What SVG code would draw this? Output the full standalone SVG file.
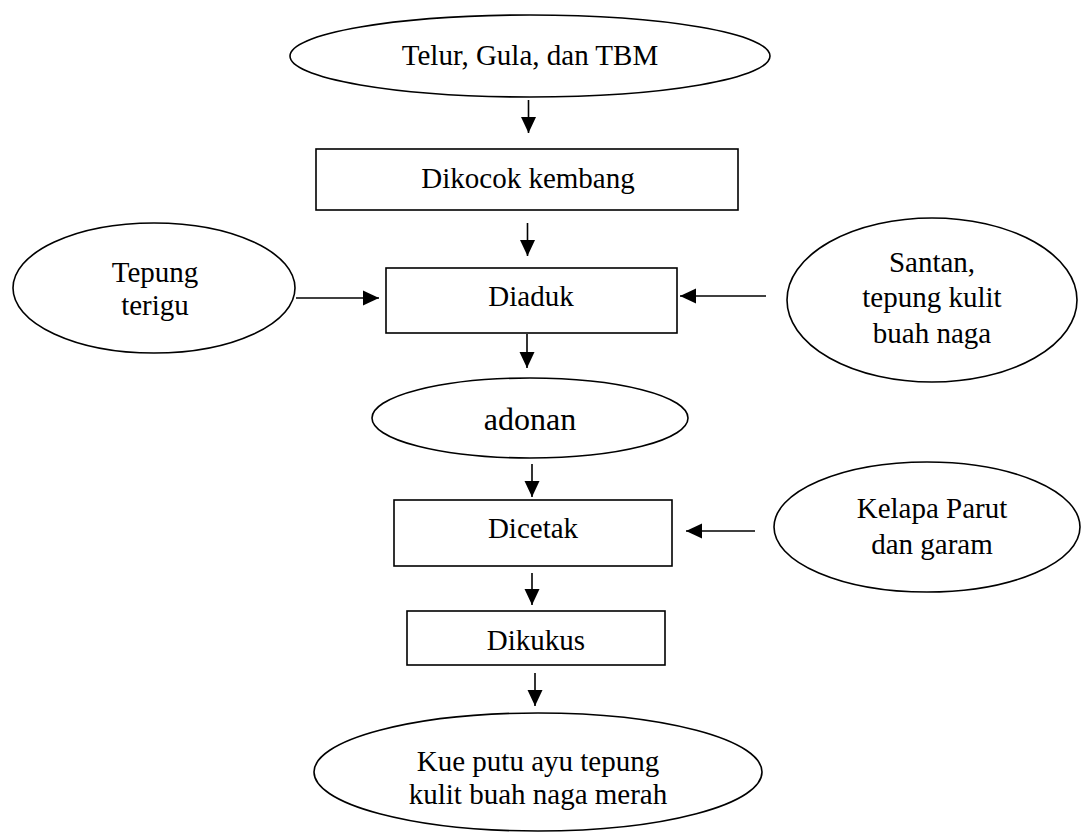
<svg xmlns="http://www.w3.org/2000/svg" width="1081" height="833" viewBox="0 0 1081 833">
<defs>
<marker id="ah" markerUnits="userSpaceOnUse" markerWidth="18" markerHeight="18" viewBox="0 0 18 18" refX="17" refY="9" orient="auto">
<path d="M1,1.5 L17,9 L1,16.5 Z" fill="#000"/>
</marker>
</defs>
<style>
.s{fill:#fff;stroke:#000;stroke-width:1.6}
.t{font-family:"Liberation Serif","Times New Roman",serif;font-size:29px;fill:#000;text-anchor:middle}
.c{stroke:#000;stroke-width:1.6;fill:none;marker-end:url(#ah)}
</style>
<rect width="1081" height="833" fill="#fff"/>
<g id="connectors">
<line class="c" x1="528.5" y1="100" x2="528.5" y2="133"/>
<line class="c" x1="527.5" y1="223" x2="527.5" y2="256"/>
<line class="c" x1="296" y1="298" x2="379" y2="298"/>
<line class="c" x1="766" y1="296" x2="680" y2="296"/>
<line class="c" x1="527" y1="334" x2="527" y2="368"/>
<line class="c" x1="532" y1="464" x2="532" y2="497"/>
<line class="c" x1="755" y1="531" x2="686" y2="531"/>
<line class="c" x1="532" y1="573" x2="532" y2="605"/>
<line class="c" x1="535" y1="673" x2="535" y2="706"/>
</g>
<g id="n-telur">
<ellipse class="s" cx="530" cy="56" rx="240" ry="41"/>
<text class="t" x="530" y="65">Telur, Gula, dan TBM</text>
</g>
<g id="n-dikocok">
<rect class="s" x="316" y="149" width="422" height="61"/>
<text class="t" x="528" y="188">Dikocok kembang</text>
</g>
<g id="n-tepung">
<ellipse class="s" cx="154" cy="288" rx="141" ry="65"/>
<text class="t" x="155" y="282">Tepung</text>
<text class="t" x="155" y="315">terigu</text>
</g>
<g id="n-diaduk">
<rect class="s" x="386" y="268" width="291" height="65"/>
<text class="t" x="531" y="306">Diaduk</text>
</g>
<g id="n-santan">
<ellipse class="s" cx="932" cy="300" rx="145" ry="82"/>
<text class="t" x="932" y="272">Santan,</text>
<text class="t" x="932" y="307">tepung kulit</text>
<text class="t" x="932" y="343">buah naga</text>
</g>
<g id="n-adonan">
<ellipse class="s" cx="530" cy="418" rx="158" ry="40"/>
<text class="t" x="530" y="430" style="font-size:32px">adonan</text>
</g>
<g id="n-dicetak">
<rect class="s" x="394" y="500" width="278" height="66"/>
<text class="t" x="533" y="538">Dicetak</text>
</g>
<g id="n-kelapa">
<ellipse class="s" cx="927" cy="527" rx="153" ry="65"/>
<text class="t" x="932" y="518">Kelapa Parut</text>
<text class="t" x="932" y="554">dan garam</text>
</g>
<g id="n-dikukus">
<rect class="s" x="407" y="611" width="258" height="54"/>
<text class="t" x="536" y="650">Dikukus</text>
</g>
<g id="n-kue">
<ellipse class="s" cx="538" cy="772" rx="224" ry="59"/>
<text class="t" x="538" y="771">Kue putu ayu tepung</text>
<text class="t" x="538" y="804">kulit buah naga merah</text>
</g>
</svg>
